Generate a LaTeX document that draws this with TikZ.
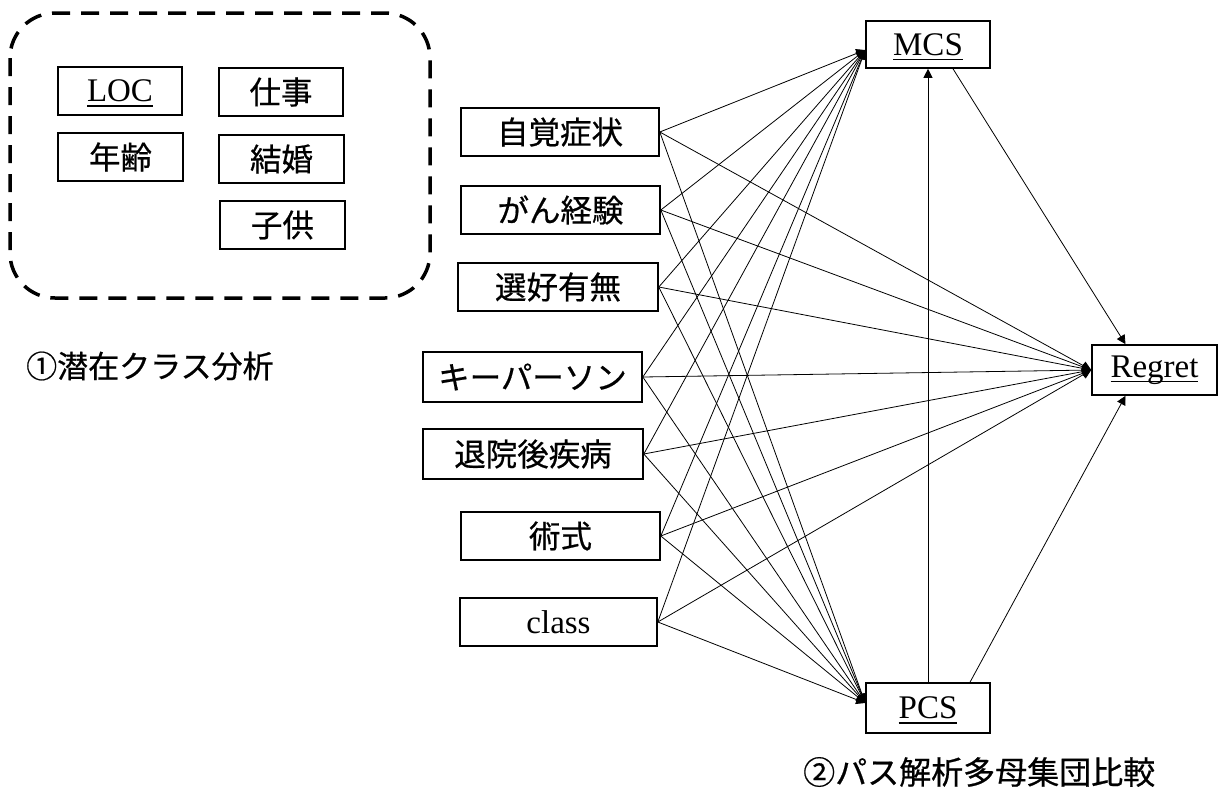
\documentclass[tikz,border=0pt]{standalone}
\usepackage{fontspec}
\setmainfont{Liberation Serif}
\newfontfamily\jp[FakeBold=0.6]{Noto Sans CJK JP}
\usetikzlibrary{arrows.meta}
\newcommand{\ulx}[1]{\setbox0\hbox{#1}\rlap{\smash{\rule[-5pt]{\wd0}{1.5pt}}}\box0}
\begin{document}
\begin{tikzpicture}[x=1pt,y=-1pt,
  box/.style={draw, line width=1.6pt, inner sep=0pt, minimum height=48pt, text=black},
  jptext/.style={font=\jp\fontsize{31.5}{36}\selectfont},
  lattext/.style={font=\fontsize{33}{38}\selectfont},
  edge/.style={line width=0.8pt, -{Triangle[length=9pt,width=9pt]}},
  lbl/.style={inner sep=0pt, anchor=west}]
\useasboundingbox (0,0) rectangle (1223,798);
% dashed group
\draw[line width=3.5pt, dash pattern=on 18pt off 11pt, rounded corners=45pt] (10,13) rectangle (430,298);
\node[box, lattext, minimum width=124pt] (loc) at (120,91) {\ulx{LOC}};
\node[box, jptext, minimum width=125pt] (age) at (120.5,157) {年齢};
\node[box, jptext, minimum width=124pt] (job) at (281,92) {仕事};
\node[box, jptext, minimum width=125pt] (marr) at (281.5,159) {結婚};
\node[box, jptext, minimum width=125pt] (child) at (282.5,225) {子供};
\node[lbl, font=\jp\fontsize{31}{36}\selectfont] (lab1) at (26,366) {①潜在クラス分析};
% predictors
\node[box, jptext, minimum width=198pt] (s1) at (560,132) {自覚症状};
\node[box, jptext, minimum width=199pt] (s2) at (560.5,210) {がん経験};
\node[box, jptext, minimum width=200pt] (s3) at (558,287) {選好有無};
\node[box, jptext, minimum width=219pt, minimum height=50pt] (s4) at (532.5,377) {キーパーソン};
\node[box, jptext, minimum width=220pt, minimum height=50pt] (s5) at (533,454) {退院後疾病};
\node[box, jptext, minimum width=199pt] (s6) at (560.5,536) {術式};
\node[box, lattext, minimum width=197pt] (s7) at (558.5,622) {class};
% outcomes
\node[box, lattext, minimum width=124pt, minimum height=47pt] (mcs) at (928,44.5) {\ulx{MCS}};
\node[box, lattext, minimum width=125pt, minimum height=50pt] (regret) at (1154.5,370) {\ulx{Regret}};
\node[box, lattext, minimum width=124pt, minimum height=50pt] (pcs) at (928,708) {\ulx{PCS}};
\node[lbl, font=\jp\fontsize{32}{38}\selectfont] (lab2) at (803,772) {②パス解析多母集団比較};
% edges
\foreach \s in {s1,s2,s3,s4,s5,s6,s7}{
  \draw[edge] (\s.east) -- ([yshift=-5.5pt]mcs.west);
  \draw[edge] (\s.east) -- (regret.west);
  \draw[edge] (\s.east) -- ([yshift=5pt]pcs.west);
}
\draw[edge] (pcs.north) -- (mcs.south);
\draw[edge] ([xshift=25pt]mcs.south) -- ([xshift=-29pt]regret.north);
\draw[edge] ([xshift=42pt]pcs.north) -- ([xshift=-29pt]regret.south);
\end{tikzpicture}
\end{document}
